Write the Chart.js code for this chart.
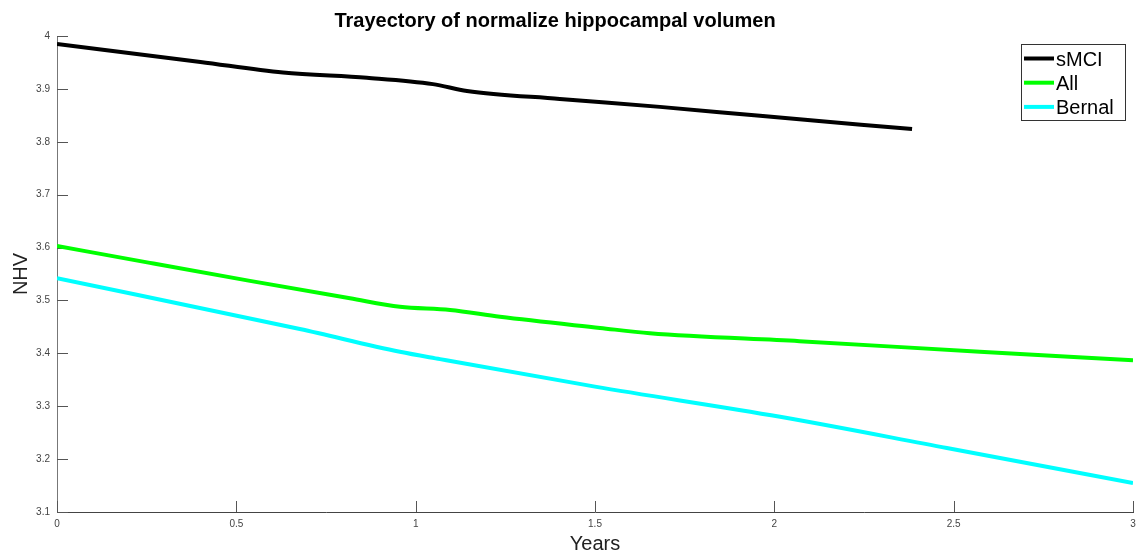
<!DOCTYPE html>
<html>
<head>
<meta charset="utf-8">
<script src="https://cdn.jsdelivr.net/npm/chart.js@4.4.1/dist/chart.umd.min.js"></script>
<style>
  html, body { margin: 0; padding: 0; background: #fff; }
  #wrap { width: 1136px; height: 558px; position: relative; }
</style>
</head>
<body>
<div id="wrap"><canvas id="nhvChart"></canvas></div>
<script>
const FONT = "'Liberation Sans', Arial, sans-serif";

// --- Series (years since baseline vs normalized hippocampal volume) ---
const smciYears = [0, 0.4, 0.63, 0.864, 1.048, 1.143, 1.402, 1.681, 1.96, 2.384];
const smciNHV   = [3.985, 3.951, 3.931, 3.921, 3.909, 3.896, 3.881, 3.866, 3.849, 3.824];

const allYears = [0, 0.259, 0.538, 0.817, 0.956, 1.096, 1.235, 1.514, 1.653, 2.07, 2.573, 3];
const allNHV   = [3.603, 3.571, 3.537, 3.504, 3.488, 3.482, 3.469, 3.448, 3.438, 3.423, 3.403, 3.387];

const bernalYears = [0, 0.677, 0.956, 1.068, 1.5, 2.016, 2.481, 3];
const bernalNHV   = [3.542, 3.446, 3.403, 3.389, 3.337, 3.280, 3.221, 3.155];

const seriesNames  = ["sMCI", "All", "Bernal"];
const seriesColors = ["#000000", "#00ff00", "#00ffff"];

const xTicks = [0, 0.5, 1, 1.5, 2, 2.5, 3];
const yTicks = [3.1, 3.2, 3.3, 3.4, 3.5, 3.6, 3.7, 3.8, 3.9, 4];

const toPoints = (xs, ys) => xs.map((x, i) => ({ x: x, y: ys[i] }));

// --- Plugins: title, inward ticks, boxed legend ---

const titlePlugin = {
    id: "plotTitle",
    afterDraw(chart) {
        const c = chart.ctx;
        c.save();
        c.font = "bold 20px " + FONT;
        c.fillStyle = "#000";
        c.textAlign = "center";
        c.textBaseline = "alphabetic";
        c.fillText("Trayectory of normalize hippocampal volumen", 555, 27);
        c.restore();
    }
};

const innerTicks = {
    id: "innerTicks",
    beforeDatasetsDraw(chart) {
        const c = chart.ctx, a = chart.chartArea;
        const xs = chart.scales.x, ys = chart.scales.y;
        c.save();
        c.strokeStyle = "#555";
        c.lineWidth = 1;
        c.beginPath();
        xTicks.forEach(v => {
            const px = Math.round(xs.getPixelForValue(v)) + 0.5;
            c.moveTo(px, a.bottom); c.lineTo(px, a.bottom - 11);
        });
        yTicks.forEach(v => {
            const py = Math.round(ys.getPixelForValue(v)) + 0.5;
            c.moveTo(a.left, py); c.lineTo(a.left + 11, py);
        });
        c.stroke();
        c.restore();
    }
};

const boxLegend = {
    id: "boxLegend",
    afterDraw(chart) {
        const c = chart.ctx;
        c.save();
        c.fillStyle = "#fff";
        c.fillRect(1021, 44, 104, 76);
        c.strokeStyle = "#333";
        c.lineWidth = 1;
        c.strokeRect(1021.5, 44.5, 104, 76);
        c.font = "20px " + FONT;
        c.textBaseline = "alphabetic";
        chart.data.datasets.forEach((ds, i) => {
            const y = 58.5 + i * 24.2;
            c.strokeStyle = ds.borderColor;
            c.lineWidth = 4;
            c.beginPath(); c.moveTo(1024, y); c.lineTo(1054, y); c.stroke();
            c.fillStyle = "#000";
            c.fillText(ds.label, 1056, y + 7);
        });
        c.restore();
    }
};

const seriesData = [
    toPoints(smciYears, smciNHV),
    toPoints(allYears, allNHV),
    toPoints(bernalYears, bernalNHV)
];

new Chart(document.getElementById("nhvChart"), {
    type: "line",
    data: {
        datasets: seriesData.map((pts, i) => ({
            label: seriesNames[i],
            data: pts,
            borderColor: seriesColors[i],
            borderWidth: 4,
            pointRadius: 0,
            fill: false,
            cubicInterpolationMode: "monotone"
        }))
    },
    options: {
        responsive: true,
        maintainAspectRatio: false,
        animation: false,
        layout: { padding: { top: 36, right: 3, left: 0, bottom: 0 } },
        plugins: { legend: { display: false }, tooltip: { enabled: false }, title: { display: false } },
        scales: {
            x: {
                type: "linear", min: 0, max: 3,
                afterFit: s => { s.height = 46; s.paddingLeft = 0; s.paddingRight = 0; },
                afterBuildTicks: s => { s.ticks = xTicks.map(v => ({ value: v })); },
                grid: { display: false, drawTicks: false },
                border: { display: true, color: "#444", width: 1 },
                ticks: { padding: 6, color: "#444", font: { family: FONT, size: 10 }, maxRotation: 0,
                         callback: v => String(+v.toFixed(2)) },
                title: { display: true, text: "Years", color: "#222",
                         font: { family: FONT, size: 20 }, padding: { top: 0, bottom: 2 } }
            },
            y: {
                type: "linear", min: 3.1, max: 4,
                afterFit: s => { s.width = 57; s.paddingTop = 0; s.paddingBottom = 0; },
                afterBuildTicks: s => { s.ticks = yTicks.map(v => ({ value: v })); },
                grid: { display: false, drawTicks: false },
                border: { display: true, color: "#777", width: 1 },
                ticks: { padding: 7, color: "#444", font: { family: FONT, size: 10 },
                         callback: v => String(+v.toFixed(2)) },
                title: { display: true, text: "NHV", color: "#222",
                         font: { family: FONT, size: 20 }, padding: { top: 9, bottom: 0 } }
            }
        }
    },
    plugins: [innerTicks, titlePlugin, boxLegend]
});
</script>
</body>
</html>
